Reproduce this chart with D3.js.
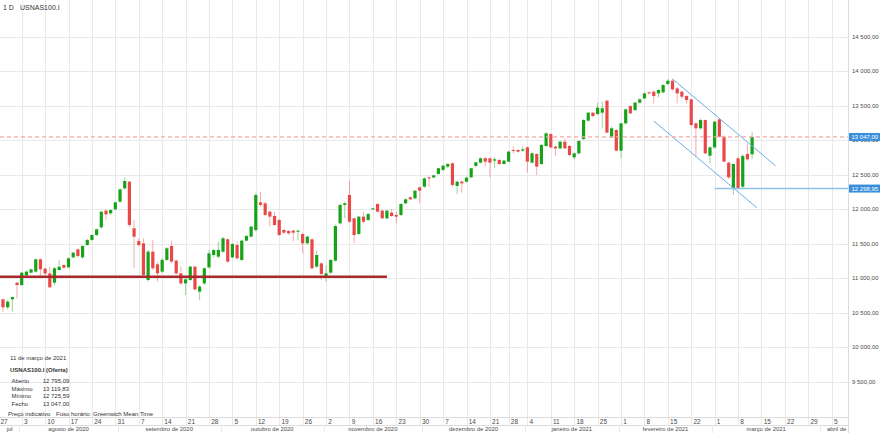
<!DOCTYPE html>
<html><head><meta charset="utf-8">
<script src="https://cdn.jsdelivr.net/npm/d3@7"></script>
<style>body{margin:0;background:#fff}svg{display:block;font-family:Arial,"Liberation Sans",sans-serif}</style>
</head><body><svg id="c" width="880" height="433"></svg>
<script>
// ---------- DATA ----------
const symbol = "USNAS100.I";
const period = "1 D";
const firstDay = "2020-07-27";
const lastAxisDay = "2021-04-09";
const closedDays = ["2020-12-25", "2021-01-01"];

const open = [
10539,10694,10578,10694,10935, 10901,11041,11080,11095,11273, 11138,11070,10935,11119,11191,
11157,11302,11418,11302,11481, 11554,11626,11737,11979,11940, 11998,12109,12302,12399,11723,
11539,11505,10974,11384,11201, 11095,11264,11467,11254,11070, 10925,10974,11167,10805,10925,
11157,11336,11312,11384,11563, 11302,11481,11264,11544,11602, 11698,12099,12085,11964,11901,
11843,11698,11684,11689,11674, 11640,11505,11563,11167,11215, 11032,11080,11254,11795,12061,
12206,11868,11640,11892,11843, 11998,12075,11979,11868,11950, 11916,11916,12085,12172,12157,
12317,12326,12462,12460,12511, 12569,12617,12665,12337,12399, 12399,12462,12627,12675,12738,
12738,12704,12713,12655, 12689,12858,12858,12849,
12897,12675,12800,12655,12916, 13089,12906,12882,12978,12916, 12751,12809,13017,13283,13399,
13379,13399,13573,13041,13148, 12848,13244,13495,13437,13544, 13606,13693,13703,13679,13693,
13814,13862,13751,13703,13640, 13592,13244,13172,13292,12775, 12896,13302,13051,12674,12302,
12737,12326,12800,12795.09
];
const high = [
10674,10700,10684,10732,10945, 11095,11110,11140,11288,11288, 11150,11167,11167,11264,11200,
11300,11380,11430,11475,11570, 11640,11720,11975,12000,12000, 12110,12300,12462,12409,11843,
11578,11578,11409,11554,11230, 11290,11450,11544,11270,11167, 11022,11180,11180,10900,11160,
11409,11420,11530,11600,11580, 11510,11530,11560,11625,11760, 12230,12254,12110,11980,11964,
11860,11720,11700,11700,11700, 11660,11620,11580,11400,11230, 11191,11280,11780,12075,12109,
12413,11880,11900,11964,11945, 12025,12090,11990,11990,12000, 11964,12085,12155,12185,12280,
12330,12460,12472,12500,12600, 12640,12665,12680,12410,12420, 12470,12600,12690,12750,12762,
12750,12752,12730,12715, 12850,12907,12870,12907,
12910,12825,12815,12945,13115, 13100,12925,12990,13025,12930, 12820,13000,13305,13410,13410,
13544,13558,13580,13200,13160, 13250,13460,13510,13555,13610, 13690,13710,13720,13740,13810,
13886,13886,13770,13715,13660, 13600,13260,13317,13300,12910, 13280,13320,13070,12690,12660,
12760,12800,12950,13119.83
];
const low = [
10515,10515,10548,10515,10708, 10887,11030,11070,11080,11032, 11040,10853,10901,11110,11140,
11150,11290,11300,11280,11470, 11540,11610,11720,11850,11920, 11985,12095,12283,11740,11143,
11457,11030,10950,11120,10950, 11070,11250,11220,11050,10900, 10756,10960,10820,10684,10900,
11140,11300,11290,11370,11220, 11290,11270,11250,11530,11590, 11675,12037,11900,11747,11760,
11610,11640,11630,11530,11550, 11360,11490,11130,11150,10974, 10950,11060,11240,11780,11868,
11800,11505,11630,11795,11830, 11985,11950,11855,11855,11890, 11795,11900,12075,12135,12145,
12085,12310,12326,12450,12500, 12555,12590,12330,12221,12240, 12385,12450,12610,12660,12617,
12462,12593,12640,12645, 12680,12810,12820,12830,
12530,12660,12496,12640,12900, 12880,12771,12870,12870,12770, 12722,12795,13000,13270,13330,
13360,13172,13100,13030,12840, 12737,13230,13380,13420,13530, 13595,13660,13534,13620,13680,
13800,13720,13534,13600,13534, 13200,12761,13150,12800,12664, 12880,13040,12680,12440,12206,
12290,12300,12700,12725.59
];
const close = [
10660,10578,10660,10727,10901, 11080,11095,11128,11273,11128, 11070,10868,11143,11167,11153,
11288,11370,11322,11467,11554, 11626,11708,11964,11925,11988, 12099,12288,12409,11771,11602,
11481,11046,11384,11143,11070, 11264,11433,11240,11070,10925, 10983,11167,10838,10877,11143,
11360,11409,11409,11578,11240, 11496,11288,11544,11612,11747, 12206,12061,11916,11892,11771,
11626,11660,11650,11660,11689, 11505,11602,11143,11336,11061, 11070,11264,11756,12061,12085,
11819,11626,11892,11819,11930, 12012,11964,11868,11979,11901, 11892,12075,12143,12143,12268,
12268,12447,12447,12490,12593, 12631,12655,12351,12399,12375, 12457,12593,12680,12738,12689,
12675,12723,12655,12704, 12834,12844,12834,12868,
12689,12810,12617,12931,13099, 12896,12882,12978,12882,12785, 12809,12988,13292,13399,13350,
13471,13462,13109,13172,12848, 13244,13447,13389,13544,13592, 13679,13679,13640,13727,13800,
13862,13737,13679,13631,13582, 13220,13172,13292,12809,12896, 13268,13051,12689,12461,12655,
12299,12771,12723,13047.00
];

const priceTicks = [9500,10000,10500,11000,11500,12000,12500,13000,13500,14000,14500];
const monthLabels = ["jul","agosto de 2020","setembro de 2020","outubro de 2020","novembro de 2020",
  "dezembro de 2020","janeiro de 2021","fevereiro de 2021","março de 2021","abril de 2021"];

const lastPrice = 13047.00;
const markedLevel = 12298.95;
const markedFrom = "2021-03-01";
const supportLevel = 11020;
const supportFrom = "2020-07-27", supportTo = "2020-11-19";
const channelUpper = [["2021-02-16", 13887], ["2021-03-18", 12630]];
const channelLower = [["2021-02-10", 13278], ["2021-03-12", 12022]];

const infoDate = "11 de março de 2021";
const infoTitle = "USNAS100.I (Oferta)";
const infoRows = [["Aberto", 12795.09], ["Máximo", 13119.83], ["Mínimo", 12725.59], ["Fecho", 13047.00]];
const infoFoot1 = "Preço indicativo", infoFoot2 = "Fuso horário: Greenwich Mean Time";

// ---------- CALENDAR ----------
const fmtD = d3.timeFormat("%Y-%m-%d");
const parseD = d3.timeParse("%Y-%m-%d");
const closedSet = new Set(closedDays);
const days = d3.timeDay.range(parseD(firstDay), d3.timeDay.offset(parseD(lastAxisDay), 1))
  .filter(d => d.getDay() !== 0 && d.getDay() !== 6 && !closedSet.has(fmtD(d)));
const idx = new Map(days.map((d, i) => [fmtD(d), i]));
const candles = open.map((o, i) => ({i, date: days[i], o, h: high[i], l: low[i], c: close[i]}));

// ---------- LAYOUT ----------
const plotW = 848, plotB = 417, rowH = 8;
const svg = d3.select("#c");
const x = d3.scaleLinear().domain([0, days.length - 1]).range([-1.7, -1.7 + 4.682 * (days.length - 1)]);
const y = d3.scaleLinear().domain([8988, 15032]).range([plotB, 0]);
const loc = d3.formatLocale({decimal: ",", thousands: " ", grouping: [3], currency: ["", ""]});
const fmtP = loc.format(",.2f");
const gridC = "#e9e9e9", txtC = "#4a4a4a";

svg.append("rect").attr("width", 880).attr("height", 433).attr("fill", "#fff");
const defs = svg.append("defs");
defs.append("clipPath").attr("id", "plot").append("rect").attr("width", plotW).attr("height", plotB);
defs.append("clipPath").attr("id", "axisx").append("rect").attr("width", plotW).attr("height", 433);

// horizontal grid
svg.append("g").selectAll("line").data(priceTicks).join("line")
  .attr("x1", 0).attr("x2", plotW).attr("y1", d => Math.round(y(d)) + .5).attr("y2", d => Math.round(y(d)) + .5)
  .attr("stroke", gridC);

// weekly grid (Mondays)
const mondays = days.map((d, i) => ({d, i})).filter(o => o.d.getDay() === 1);
svg.append("g").attr("clip-path", "url(#axisx)").selectAll("line").data(mondays).join("line")
  .attr("x1", o => Math.round(x(o.i)) + .5).attr("x2", o => Math.round(x(o.i)) + .5)
  .attr("y1", 0).attr("y2", plotB + rowH).attr("stroke", gridC);

// bottom axis rows
svg.append("line").attr("x1", 0).attr("x2", plotW).attr("y1", plotB + .5).attr("y2", plotB + .5).attr("stroke", "#dcdcdc");
svg.append("line").attr("x1", 0).attr("x2", plotW).attr("y1", plotB + rowH + .5).attr("y2", plotB + rowH + .5).attr("stroke", "#dcdcdc");
svg.append("line").attr("x1", plotW + .5).attr("x2", plotW + .5).attr("y1", 0).attr("y2", 433).attr("stroke", "#dcdcdc");

const ax = svg.append("g").attr("clip-path", "url(#axisx)");
ax.selectAll("text.day").data(mondays).join("text").attr("class", "day")
  .attr("x", o => x(o.i) + 2.2).attr("y", plotB + 6.6)
  .attr("font-size", 6.5).attr("fill", txtC).text(o => o.d.getDate());

// month separators & labels
const bounds = [];
days.forEach((d, i) => { if (i > 0 && d.getMonth() !== days[i - 1].getMonth()) bounds.push((x(i) + x(i - 1)) / 2); });
ax.selectAll("line.msep").data(bounds).join("line").attr("class", "msep")
  .attr("x1", b => Math.round(b) + .5).attr("x2", b => Math.round(b) + .5)
  .attr("y1", plotB + rowH).attr("y2", 433).attr("stroke", gridC);
const edges = [0, ...bounds, plotW];
monthLabels.forEach((lab, k) => {
  const a = Math.max(0, edges[k]), b = Math.min(plotW, edges[k + 1]);
  const t = ax.append("text").attr("y", plotB + rowH + 6.3).attr("font-size", 5.9).attr("fill", txtC).text(lab);
  const w = t.node().getComputedTextLength();
  if (w < b - a) t.attr("x", (a + b) / 2).attr("text-anchor", "middle");
  else t.attr("x", a + 7);
});

// right price axis
svg.append("g").selectAll("text").data(priceTicks).join("text")
  .attr("x", 852).attr("y", d => y(d) + 2.1).attr("font-size", 6).attr("fill", txtC).text(d => fmtP(d));

// ---------- PLOT ----------
const g = svg.append("g").attr("clip-path", "url(#plot)");
const up = "#17a317", dn = "#e94848";
g.selectAll("line.wick").data(candles).join("line").attr("class", "wick")
  .attr("x1", d => x(d.i)).attr("x2", d => x(d.i)).attr("y1", d => y(d.h)).attr("y2", d => y(d.l))
  .attr("stroke", d => d.c >= d.o ? up : dn).attr("stroke-opacity", 0.45).attr("stroke-width", 1);
g.selectAll("rect.body").data(candles).join("rect").attr("class", "body")
  .attr("x", d => x(d.i) - 1.6).attr("width", 3.2)
  .attr("y", d => y(Math.max(d.o, d.c)))
  .attr("height", d => Math.max(1, Math.abs(y(d.o) - y(d.c))))
  .attr("fill", d => d.c >= d.o ? up : dn);

// support line
g.append("line").attr("x1", x(idx.get(supportFrom))).attr("x2", x(idx.get(supportTo)))
  .attr("y1", y(supportLevel)).attr("y2", y(supportLevel)).attr("stroke", "#a8282c").attr("stroke-width", 2.5);

// channel
[channelUpper, channelLower].forEach(seg => {
  g.append("line").attr("x1", x(idx.get(seg[0][0]))).attr("y1", y(seg[0][1]))
    .attr("x2", x(idx.get(seg[1][0]))).attr("y2", y(seg[1][1]))
    .attr("stroke", "#6aaee6").attr("stroke-width", 1);
});
g.append("line").attr("x1", x(idx.get(markedFrom))).attr("x2", plotW)
  .attr("y1", y(markedLevel)).attr("y2", y(markedLevel)).attr("stroke", "#8cc2ec").attr("stroke-width", 1.5);

// last price dashed
g.append("line").attr("x1", 0).attr("x2", plotW).attr("y1", y(lastPrice)).attr("y2", y(lastPrice))
  .attr("stroke", "#f5aaa4").attr("stroke-width", 1.3).attr("stroke-dasharray", "4,3");

// price tags
[lastPrice, markedLevel].forEach(v => {
  svg.append("rect").attr("x", 849).attr("y", y(v) - 4).attr("width", 31).attr("height", 8).attr("fill", "#3a8fdc");
  svg.append("text").attr("x", 851.5).attr("y", y(v) + 2.1).attr("font-size", 6).attr("fill", "#fff").text(fmtP(v));
});

// header
svg.append("text").attr("x", 3).attr("y", 9.5).attr("font-size", 7).attr("fill", "#333").text(period);
svg.append("text").attr("x", 20).attr("y", 9.5).attr("font-size", 7).attr("fill", "#333").text(symbol);

// info box
const info = svg.append("g").attr("fill", "#333").attr("font-size", 6);
info.append("text").attr("x", 10).attr("y", 360.2).text(infoDate);
info.append("text").attr("x", 10).attr("y", 372.4).attr("font-weight", "bold").text(infoTitle);
infoRows.forEach((r, k) => {
  info.append("text").attr("x", 11.5).attr("y", 383.1 + k * 7.6).text(r[0]);
  info.append("text").attr("x", 42.7).attr("y", 383.1 + k * 7.6).text(fmtP(r[1]));
});
info.append("text").attr("x", 8).attr("y", 415.6).text(infoFoot1);
info.append("text").attr("x", 56).attr("y", 415.6).text(infoFoot2);
</script></body></html>
